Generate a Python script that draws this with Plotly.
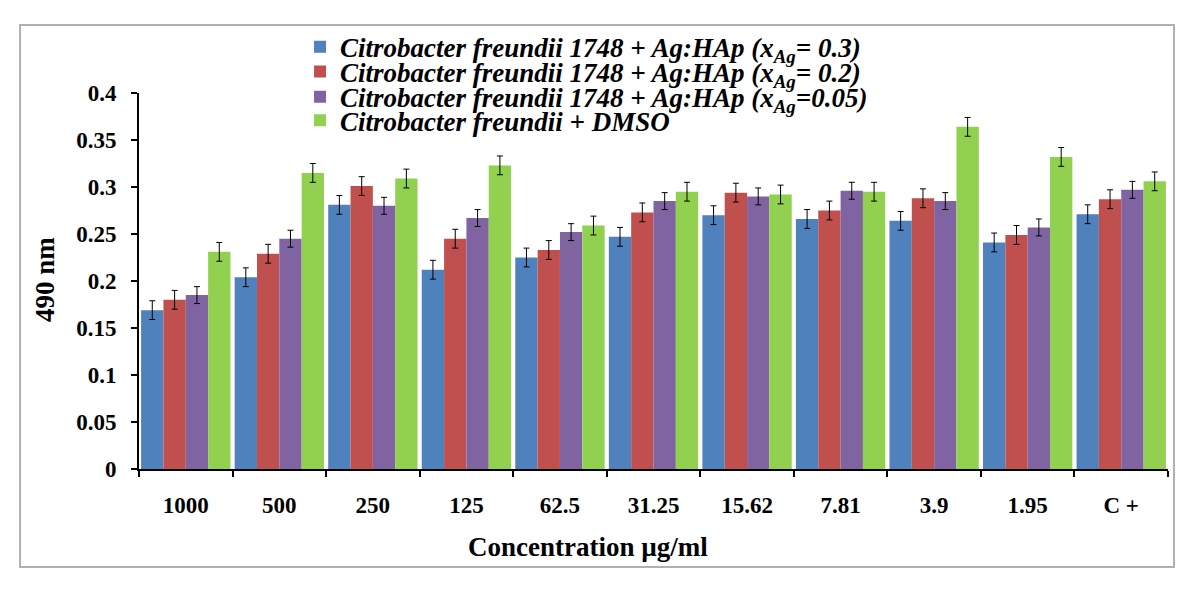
import plotly.graph_objects as go

concentrations = ["1000", "500", "250", "125", "62.5", "31.25", "15.62", "7.81", "3.9", "1.95", "C +"]

x_03 = [0.169, 0.204, 0.281, 0.212, 0.225, 0.247, 0.270, 0.266, 0.264, 0.241, 0.271]
x_02 = [0.180, 0.229, 0.301, 0.245, 0.233, 0.273, 0.294, 0.275, 0.288, 0.249, 0.287]
x_005 = [0.185, 0.245, 0.280, 0.267, 0.252, 0.285, 0.290, 0.296, 0.285, 0.257, 0.297]
dmso = [0.231, 0.315, 0.309, 0.323, 0.259, 0.295, 0.292, 0.295, 0.364, 0.332, 0.306]

err_03 = [0.010] * 11
err_02 = [0.010] * 11
err_005 = [0.009] * 11
err_dmso = [0.010] * 11

series = [
    ("<i>Citrobacter freundii 1748 + Ag:HAp (x<sub>Ag</sub>= 0.3)</i>", x_03, err_03, "#4F81BD"),
    ("<i>Citrobacter freundii 1748 + Ag:HAp (x<sub>Ag</sub>= 0.2)</i>", x_02, err_02, "#C0504D"),
    ("<i>Citrobacter freundii 1748 + Ag:HAp (x<sub>Ag</sub>=0.05)</i>", x_005, err_005, "#8064A2"),
    ("<i>Citrobacter freundii + DMSO</i>", dmso, err_dmso, "#92D050"),
]

serif = "Liberation Serif"
# one legend per trace so rows can sit as tight as the Excel original
legend_names = ["legend", "legend2", "legend3", "legend4"]
legend_rows = [1.122, 1.056, 0.989, 0.926]

fig = go.Figure()
for (name, vals, errs, color), lg in zip(series, legend_names):
    fig.add_trace(go.Bar(
        x=concentrations, y=vals, name=name, legend=lg,
        marker=dict(color=color, line=dict(width=0)),
        error_y=dict(type="data", array=errs, color="black", thickness=1, width=3),
    ))

legend_style = dict(
    x=0.1565, xanchor="left", yanchor="middle",
    font=dict(family=serif, size=27, color="black", weight="bold"),
    bgcolor="rgba(0,0,0,0)",
)

fig.update_layout(
    width=1200, height=590,
    paper_bgcolor="white", plot_bgcolor="white",
    margin=dict(l=131, r=40, t=85, b=129),
    barmode="group", bargap=0.045, bargroupgap=0,
    font=dict(family=serif, color="black"),
    showlegend=True,
    **{lg: dict(legend_style, y=yy) for lg, yy in zip(legend_names, legend_rows)},
)

fig.update_xaxes(
    type="category", showline=True, linecolor="black", linewidth=2,
    ticks="outside", ticklen=6, tickcolor="black", tickwidth=1.5,
    tickson="boundaries", showgrid=False,
    tickfont=dict(family=serif, size=23, weight="bold"),
    ticklabelstandoff=14,
)
fig.update_yaxes(
    range=[0, 0.4], dtick=0.05, showline=True, linecolor="black", linewidth=2,
    ticks="outside", ticklen=6, tickcolor="black", tickwidth=1.5,
    showgrid=False, zeroline=False,
    tickfont=dict(family=serif, size=23, weight="bold"),
    ticklabelstandoff=10,
)

fig.add_annotation(
    text="490 nm", textangle=-90, xref="paper", yref="paper",
    x=-0.0913, y=0.503, xanchor="center", yanchor="middle", showarrow=False,
    font=dict(family=serif, size=27, weight="bold"),
)
fig.add_annotation(
    text="Concentration µg/ml", xref="paper", yref="paper",
    x=0.436, y=-0.207, xanchor="center", yanchor="middle", showarrow=False,
    font=dict(family=serif, size=27, weight="bold"),
)

fig.add_shape(
    type="rect", xref="paper", yref="paper",
    x0=-0.1156, x1=1.0058, y0=-0.2606, y1=1.1809,
    line=dict(color="#b0b0b0", width=2), fillcolor="rgba(0,0,0,0)",
    layer="below",
)

fig.write_html("out.html")
